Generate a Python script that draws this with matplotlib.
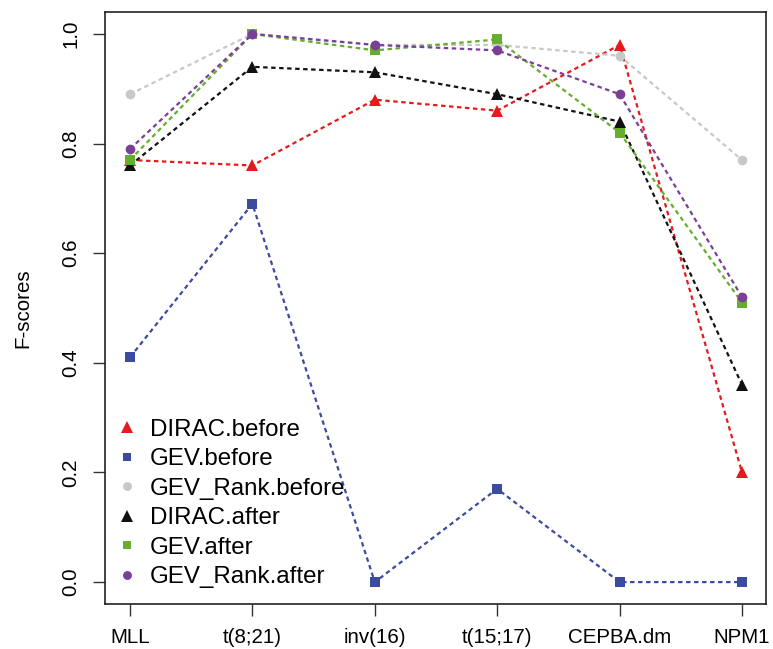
import matplotlib
matplotlib.use("Agg")
import matplotlib.pyplot as plt
from matplotlib.lines import Line2D

plt.rcParams['font.family'] = ['Liberation Sans', 'DejaVu Sans']

categories = ["MLL", "t(8;21)", "inv(16)", "t(15;17)", "CEPBA.dm", "NPM1"]
dirac_before = [0.77, 0.76, 0.88, 0.86, 0.98, 0.20]
gev_before = [0.41, 0.69, 0.00, 0.17, 0.00, 0.00]
gevrank_before = [0.89, 1.00, 0.98, 0.98, 0.96, 0.77]
dirac_after = [0.76, 0.94, 0.93, 0.89, 0.84, 0.36]
gev_after = [0.77, 1.00, 0.97, 0.99, 0.82, 0.51]
gevrank_after = [0.79, 1.00, 0.98, 0.97, 0.89, 0.52]
yticks = [0.0, 0.2, 0.4, 0.6, 0.8, 1.0]
series_names = ["DIRAC.before", "GEV.before", "GEV_Rank.before",
                "DIRAC.after", "GEV.after", "GEV_Rank.after"]

series = [dirac_before, gev_before, gevrank_before, dirac_after, gev_after, gevrank_after]
colors = ["#E41A1C", "#3B4BA0", "#C8C8C8", "#111111", "#66AE2E", "#7B3F98"]
markers = ["^", "s", "o", "^", "s", "o"]
msizes = {"^": 8.5, "s": 6.8, "o": 7.0}
leg_sizes = {"^": 8.5, "s": 5.4, "o": 6.4}

fig = plt.figure(figsize=(7.73, 6.49), dpi=100)
W, H = 773, 649
ax = fig.add_axes([105.5 / W, 1 - 604 / H, 661 / W, 592 / H])

x = list(range(1, len(categories) + 1))
order = [2, 1, 0, 3, 4, 5]
for i in order:
    ax.plot(x, series[i], linestyle=(0, (2.0, 1.6)), linewidth=1.6, color=colors[i],
            marker=markers[i], markersize=msizes[markers[i]], markeredgewidth=0,
            zorder=2 + i)

ax.set_xlim(0.8, 6.2)
ax.set_ylim(-0.04, 1.04)
ax.set_xticks(x)
ax.set_xticklabels(categories)
ax.set_yticks(yticks)
ax.set_yticklabels([f"{v:.1f}" for v in yticks], rotation=90, va="center")
ax.tick_params(axis='both', direction='out', length=8.5, width=1.0, labelsize=14.8,
               color='#333333')
ax.tick_params(axis='x', pad=8.5)
ax.tick_params(axis='y', pad=9.5)
for s in ax.spines.values():
    s.set_linewidth(1.2)
    s.set_color('#222222')

ax.set_ylabel("F-scores", fontsize=14.8)
ax.yaxis.set_label_coords((32 - 105.5) / 661, 0.5)

handles = [Line2D([], [], linestyle='none', marker=markers[i], color=colors[i],
                  markersize=leg_sizes[markers[i]], markeredgewidth=0)
           for i in range(6)]
ax.legend(handles, series_names, loc='lower left', frameon=False,
          bbox_to_anchor=((115 - 105.5) / 661, (604 - 588) / 592),
          borderaxespad=0, borderpad=0, handlelength=1.0, handletextpad=0.45,
          labelspacing=0.31, fontsize=17.35)

fig.savefig("out.png", dpi=100)
